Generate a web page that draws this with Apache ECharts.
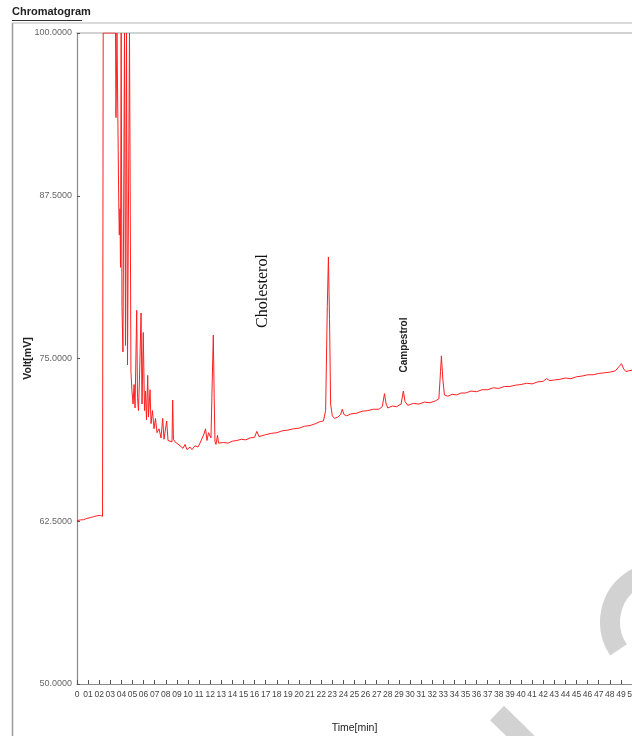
<!DOCTYPE html>
<html>
<head>
<meta charset="utf-8">
<script src="https://cdn.jsdelivr.net/npm/echarts@6/dist/echarts.min.js"></script>
<style>
html,body{margin:0;padding:0;background:#fff;overflow:hidden;width:632px;height:736px;}
#c{width:632px;height:736px;}
</style>
</head>
<body>
<div id="c"></div>
<script>
// ---- data ----
var timeMin = [
 0, 0.3, 0.6, 0.9, 1.2, 1.5, 1.8, 2.1, 2.3, 2.34,
 2.36, 3.47, 3.51, 3.6, 3.69, 3.76, 3.81, 3.87, 3.92, 3.98,
 4.05, 4.14, 4.28, 4.37, 4.46, 4.55, 4.73, 4.82, 4.86, 4.95,
 5.05, 5.14, 5.23, 5.38, 5.45, 5.54, 5.63, 5.77, 5.86, 5.97,
 6.08, 6.17, 6.26, 6.37, 6.44, 6.58, 6.67, 6.8, 6.94, 7.07,
 7.21, 7.39, 7.57, 7.72, 7.84, 8.08, 8.2, 8.38, 8.56, 8.62,
 8.69, 8.83, 9.01, 9.28, 9.55, 9.73, 9.91, 10.18, 10.36, 10.63,
 10.9, 11.08, 11.26, 11.44, 11.58, 11.71, 11.85, 11.98, 12.07, 12.19,
 12.28, 12.36, 12.43, 12.52, 12.66, 12.75, 12.88, 13.2, 13.6, 14.0,
 14.4, 14.8, 15.2, 15.6, 16.0, 16.2, 16.4, 17.0, 17.5, 18.0,
 18.5, 19.0, 19.5, 20.0, 20.5, 21.0, 21.5, 21.9, 22.2, 22.4,
 22.55, 22.65, 22.75, 22.85, 23.0, 23.2, 23.5, 23.75, 23.9, 24.05,
 24.3, 24.7, 25.2, 25.7, 26.2, 26.7, 27.2, 27.5, 27.7, 27.85,
 28.0, 28.4, 28.8, 29.2, 29.4, 29.55, 29.8, 30.3, 30.8, 31.3,
 31.8, 32.3, 32.6, 32.75, 32.83, 32.95, 33.1, 33.4, 33.8, 34.2,
 34.6, 35.0, 35.5, 36.0, 36.5, 37.0, 37.5, 38.0, 38.5, 39.0,
 39.5, 40.0, 40.5, 41.0, 41.5, 42.0, 42.3, 42.6, 43.0, 43.5,
 44.0, 44.5, 45.0, 45.5, 46.0, 46.5, 47.0, 47.5, 48.0, 48.5,
 48.85, 49.05, 49.25, 49.45, 49.7, 50.0
];
var voltMv = [
 62.55, 62.6, 62.62, 62.72, 62.78, 62.85, 62.92, 62.95, 62.88, 62.9,
 100, 100, 93.5, 100, 100, 87, 84.5, 86.5, 82, 100,
 79, 75.5, 100, 76, 100, 74.5, 100, 100, 74, 72.5,
 71.5, 73, 71.2, 78.7, 72, 71, 73.5, 78.5, 71.5, 77,
 71, 72.5, 70.3, 73.7, 70.5, 72.6, 70.0, 71.0, 69.6, 70.4,
 69.3, 69.6, 68.9, 70.4, 68.8, 70.2, 68.7, 68.8, 68.6, 71.8,
 68.8, 68.6, 68.7, 68.3, 68.1, 68.4, 68.0, 68.2, 68.0, 68.3,
 68.2, 68.5, 68.4, 69.2, 69.6, 68.7, 69.3, 69.4, 68.9, 73.5,
 76.8, 72, 68.6, 68.4, 69.1, 68.5, 68.4, 68.55, 68.5, 68.65,
 68.7, 68.8, 68.75, 68.9, 68.95, 69.4, 69.0, 69.15, 69.25, 69.3,
 69.45, 69.5, 69.6, 69.65, 69.8, 69.85, 70.0, 70.15, 70.2, 71.0,
 79, 82.8, 78, 71.5, 70.6, 70.4, 70.5, 70.7, 71.1, 70.7,
 70.6, 70.75, 70.8, 70.95, 71.0, 71.1, 71.1, 71.3, 72.3, 71.5,
 71.2, 71.35, 71.3, 71.5, 72.5, 71.7, 71.4, 71.55, 71.5, 71.65,
 71.6, 71.75, 71.9, 74.0, 75.2, 73.5, 72.2, 72.1, 72.25, 72.2,
 72.35, 72.35, 72.5, 72.45, 72.6, 72.6, 72.75, 72.7, 72.85, 72.85,
 72.95, 73.0, 73.1, 73.05, 73.2, 73.25, 73.45, 73.3, 73.35, 73.4,
 73.5, 73.45, 73.6, 73.65, 73.75, 73.75, 73.85, 73.9, 73.95, 74.05,
 74.4, 74.6, 74.2, 74.0, 74.05, 74.1
];
var xTickLabels = ['0','01','02','03','04','05','06','07','08','09',
 '10','11','12','13','14','15','16','17','18','19',
 '20','21','22','23','24','25','26','27','28','29',
 '30','31','32','33','34','35','36','37','38','39',
 '40','41','42','43','44','45','46','47','48','49','50'];
var yTickValues = [50, 62.5, 75, 87.5, 100];
var peakLabels = ['Cholesterol', 'Campestrol'];

var seriesData = timeMin.map(function (t, i) { return [t, voltMv[i]]; });

var chart = echarts.init(document.getElementById('c'), null, {renderer: 'canvas', width: 632, height: 736});
chart.setOption({
  animation: false,
  backgroundColor: '#fff',
  grid: {left: 77, top: 33, right: 0, bottom: 52, show: false, containLabel: false,
         outerBoundsMode: 'none'},
  xAxis: [{
    type: 'value', min: 0, max: 50, interval: 1,
    name: 'Time[min]', nameLocation: 'middle', nameGap: 39, nameMoveOverlap: false,
    nameTextStyle: {fontFamily: 'Arial', fontSize: 10.5, color: '#222'},
    axisLine: {show: true, lineStyle: {color: '#8a8a8a', width: 1.2}},
    axisTick: {show: true, inside: true, length: 4, lineStyle: {color: '#555'}},
    axisLabel: {interval: 0, fontFamily: 'Arial', fontSize: 8.5, color: '#444', margin: 6,
      formatter: function (v) { return xTickLabels[Math.round(v)]; }},
    splitLine: {show: false}
  }, {
    type: 'value', min: 0, max: 50, position: 'top',
    axisLine: {show: true, onZero: false, lineStyle: {color: '#c4c4c4', width: 1.6}},
    axisTick: {show: false}, axisLabel: {show: false}, splitLine: {show: false}
  }],
  yAxis: {
    type: 'value', min: 50, max: 100, interval: 12.5,
    name: 'Volt[mV]', nameLocation: 'middle', nameGap: 43, nameMoveOverlap: false,
    nameTextStyle: {fontFamily: 'Arial', fontSize: 10.5, fontWeight: 'bold', color: '#222'},
    axisLine: {show: true, lineStyle: {color: '#8a8a8a', width: 1.2}},
    axisTick: {show: true, inside: true, length: 3, lineStyle: {color: '#555'}},
    axisLabel: {fontFamily: 'Arial', fontSize: 9, color: '#666', margin: 5,
      formatter: function (v) { return v.toFixed(4); }},
    splitLine: {show: false}
  },
  series: [{
    type: 'line', xAxisIndex: 0, data: seriesData, showSymbol: false, symbol: 'none',
    lineStyle: {color: '#ff1f1f', width: 1}, clip: true
  }],
  graphic: [
    {type: 'line', shape: {x1: 12.5, y1: 23, x2: 12.5, y2: 736}, style: {stroke: '#9a9a9a', lineWidth: 1.5}},
    {type: 'line', shape: {x1: 12, y1: 23, x2: 632, y2: 23}, style: {stroke: '#b5b5b5', lineWidth: 1.2}},
    {type: 'text', left: 12, top: 6, style: {text: 'Chromatogram', font: 'bold 11px Arial', fill: '#222'}},
    {type: 'line', shape: {x1: 12, y1: 20.5, x2: 82, y2: 20.5}, style: {stroke: '#333', lineWidth: 1}},
    {type: 'text', x: 263, y: 291, rotation: Math.PI / 2,
     style: {text: peakLabels[0], font: '16px "Liberation Serif", "Times New Roman", serif', fill: '#111',
             textAlign: 'center', textVerticalAlign: 'middle'}},
    {type: 'text', x: 404, y: 345, rotation: Math.PI / 2,
     style: {text: peakLabels[1], font: 'bold 10px Arial', fill: '#222',
             textAlign: 'center', textVerticalAlign: 'middle'}},
    {type: 'arc', shape: {cx: 660, cy: 622, r: 50, startAngle: 2.55, endAngle: 4.4, clockwise: true},
     style: {stroke: '#d2d2d2', lineWidth: 20, fill: null}, z: -1},
    {type: 'line', shape: {x1: 497, y1: 713, x2: 545, y2: 760},
     style: {stroke: '#d2d2d2', lineWidth: 20}, z: -1}
  ]
});
</script>
</body>
</html>
